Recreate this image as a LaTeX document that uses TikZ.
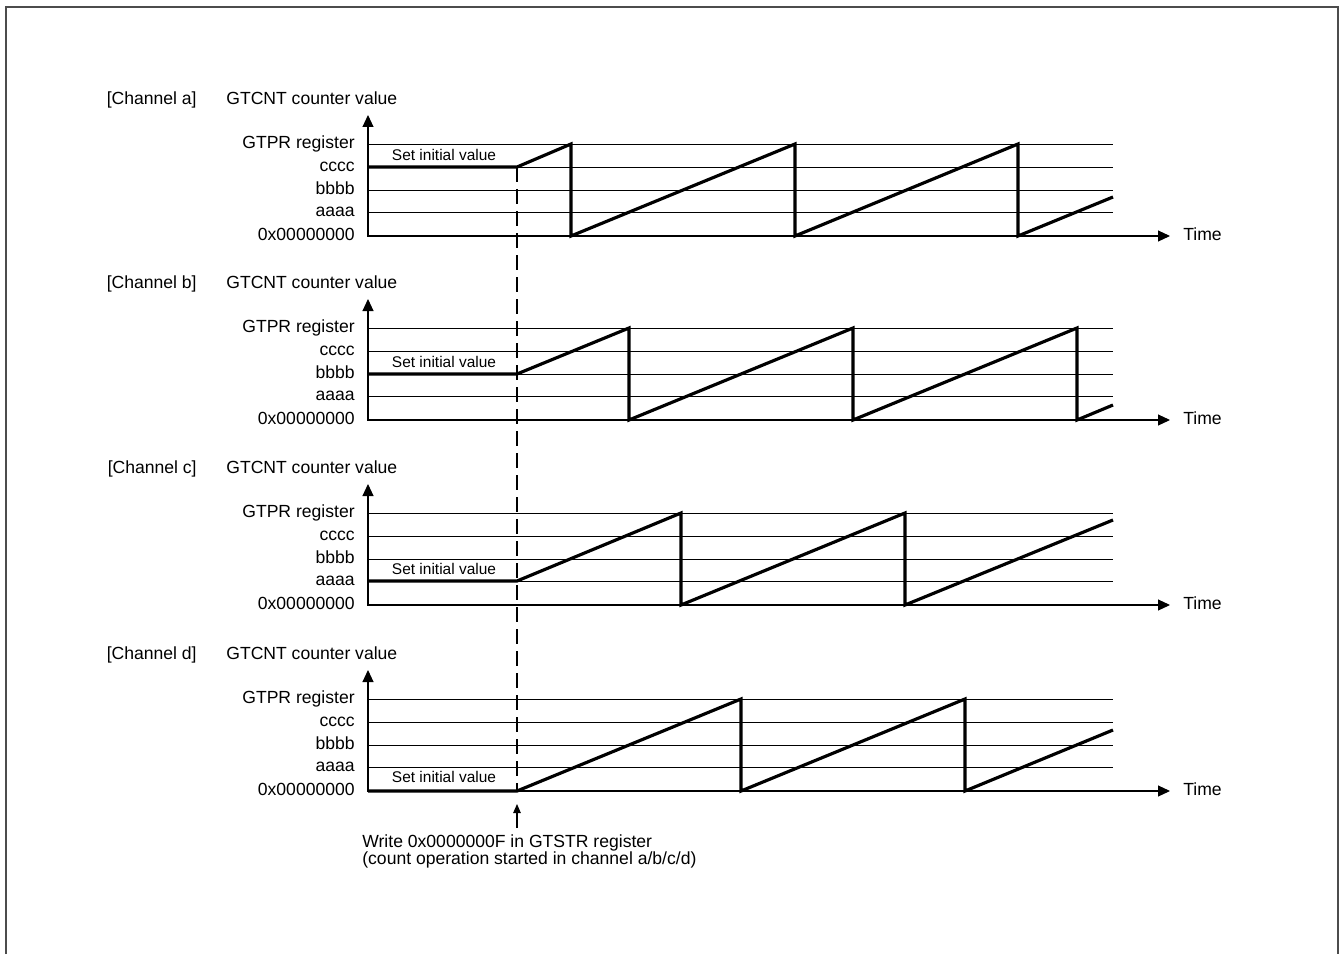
\documentclass[tikz,border=0pt]{standalone}
\usepackage{fontspec}
\setmainfont{Liberation Sans}
\setlength{\lineskiplimit}{-10pt}
\usetikzlibrary{arrows.meta}

\begin{document}
\begin{tikzpicture}[
    x=0.2mm, y=-0.2mm,
    lbl/.style={font=\fontsize{10}{12}\selectfont, inner sep=0pt},
    lvl/.style={lbl, anchor=mid east},
    initv/.style={font=\fontsize{8.8}{10}\selectfont, inner sep=0pt, anchor=mid},
    gridline/.style={line width=0.5pt},
    axisarrow/.style={line width=0.6pt, {Triangle[length=2.4mm, width=2.2mm]}-{Triangle[length=2.4mm, width=2.2mm]}},
    wave/.style={line width=1.8pt},
    dashline/.style={line width=0.85pt, dash pattern=on 3mm off 1.4mm},
    framebox/.style={line width=0.9pt, black!70}
  ]
  \useasboundingbox (0,0) rectangle (1340,954);
  \draw[framebox] (6,954) -- (6,7) -- (1338,7) -- (1338,954);

  % channel a
  \begin{scope}[shift={(0,236)}]
    \node[lbl, anchor=mid east] (aTitle) at (197,-136) {[Channel a]};
    \node[lbl, anchor=mid west] (aName) at (226,-136) {GTCNT counter value};
    \coordinate (aO) at (368,0);
    \coordinate (aTop) at (368,-121);
    \coordinate (aEnd) at (1170,0);
    \coordinate (aR) at (1113,0);
    \node[lvl] (aZero) at (355,0) {0x00000000};
    \node[lvl] (aA) at (355,-24) {aaaa};
    \node[lvl] (aB) at (355,-46) {bbbb};
    \node[lvl] (aC) at (355,-69) {cccc};
    \node[lvl] (aP) at (355,-92) {GTPR register};
    \node[lbl, anchor=mid west] (aTime) at (1183,0) {Time};
    \draw[gridline] (aO |- aA.mid) -- (aR |- aA.mid);
    \draw[gridline] (aO |- aB.mid) -- (aR |- aB.mid);
    \draw[gridline] (aO |- aC.mid) -- (aR |- aC.mid);
    \draw[gridline] (aO |- aP.mid) -- (aR |- aP.mid);
    \draw[axisarrow] (aTop) -- (aO) -- (aEnd);
    \coordinate (aStart) at (517,-69);
    \node[initv] (aInit) at (444,-80) {Set initial value};
    \draw[wave] (368,-69) -- (aStart) -- (571,-92) -- (571,0) -- (795,-92) -- (795,0)
      -- (1018,-92) -- (1018,0) -- (1113,-39);
  \end{scope}

  % channel b
  \begin{scope}[shift={(0,420)}]
    \node[lbl, anchor=mid east] (bTitle) at (197,-136) {[Channel b]};
    \node[lbl, anchor=mid west] (bName) at (226,-136) {GTCNT counter value};
    \coordinate (bO) at (368,0);
    \coordinate (bTop) at (368,-121);
    \coordinate (bEnd) at (1170,0);
    \coordinate (bR) at (1113,0);
    \node[lvl] (bZero) at (355,0) {0x00000000};
    \node[lvl] (bA) at (355,-24) {aaaa};
    \node[lvl] (bB) at (355,-46) {bbbb};
    \node[lvl] (bC) at (355,-69) {cccc};
    \node[lvl] (bP) at (355,-92) {GTPR register};
    \node[lbl, anchor=mid west] (bTime) at (1183,0) {Time};
    \draw[gridline] (bO |- bA.mid) -- (bR |- bA.mid);
    \draw[gridline] (bO |- bB.mid) -- (bR |- bB.mid);
    \draw[gridline] (bO |- bC.mid) -- (bR |- bC.mid);
    \draw[gridline] (bO |- bP.mid) -- (bR |- bP.mid);
    \draw[axisarrow] (bTop) -- (bO) -- (bEnd);
    \coordinate (bStart) at (517,-46);
    \node[initv] (bInit) at (444,-57) {Set initial value};
    \draw[wave] (368,-46) -- (bStart) -- (629,-92) -- (629,0) -- (853,-92) -- (853,0)
      -- (1077,-92) -- (1077,0) -- (1113,-15);
  \end{scope}

  % channel c
  \begin{scope}[shift={(0,605)}]
    \node[lbl, anchor=mid east] (cTitle) at (197,-136) {[Channel c]};
    \node[lbl, anchor=mid west] (cName) at (226,-136) {GTCNT counter value};
    \coordinate (cO) at (368,0);
    \coordinate (cTop) at (368,-121);
    \coordinate (cEnd) at (1170,0);
    \coordinate (cR) at (1113,0);
    \node[lvl] (cZero) at (355,0) {0x00000000};
    \node[lvl] (cA) at (355,-24) {aaaa};
    \node[lvl] (cB) at (355,-46) {bbbb};
    \node[lvl] (cC) at (355,-69) {cccc};
    \node[lvl] (cP) at (355,-92) {GTPR register};
    \node[lbl, anchor=mid west] (cTime) at (1183,0) {Time};
    \draw[gridline] (cO |- cA.mid) -- (cR |- cA.mid);
    \draw[gridline] (cO |- cB.mid) -- (cR |- cB.mid);
    \draw[gridline] (cO |- cC.mid) -- (cR |- cC.mid);
    \draw[gridline] (cO |- cP.mid) -- (cR |- cP.mid);
    \draw[axisarrow] (cTop) -- (cO) -- (cEnd);
    \coordinate (cStart) at (517,-24);
    \node[initv] (cInit) at (444,-35) {Set initial value};
    \draw[wave] (368,-24) -- (cStart) -- (681,-92) -- (681,0) -- (905,-92) -- (905,0)
      -- (1113,-85);
  \end{scope}

  % channel d
  \begin{scope}[shift={(0,791)}]
    \node[lbl, anchor=mid east] (dTitle) at (197,-136) {[Channel d]};
    \node[lbl, anchor=mid west] (dName) at (226,-136) {GTCNT counter value};
    \coordinate (dO) at (368,0);
    \coordinate (dTop) at (368,-121);
    \coordinate (dEnd) at (1170,0);
    \coordinate (dR) at (1113,0);
    \node[lvl] (dZero) at (355,0) {0x00000000};
    \node[lvl] (dA) at (355,-24) {aaaa};
    \node[lvl] (dB) at (355,-46) {bbbb};
    \node[lvl] (dC) at (355,-69) {cccc};
    \node[lvl] (dP) at (355,-92) {GTPR register};
    \node[lbl, anchor=mid west] (dTime) at (1183,0) {Time};
    \draw[gridline] (dO |- dA.mid) -- (dR |- dA.mid);
    \draw[gridline] (dO |- dB.mid) -- (dR |- dB.mid);
    \draw[gridline] (dO |- dC.mid) -- (dR |- dC.mid);
    \draw[gridline] (dO |- dP.mid) -- (dR |- dP.mid);
    \draw[axisarrow] (dTop) -- (dO) -- (dEnd);
    \coordinate (dStart) at (517,0);
    \node[initv] (dInit) at (444,-13) {Set initial value};
    \draw[wave] (368,0) -- (dStart) -- (741,-92) -- (741,0) -- (965,-92) -- (965,0)
      -- (1113,-61);
  \end{scope}

  % start of count
  \draw[dashline] (aStart) -- (dStart);
  \coordinate (wTail) at (517,828);
  \coordinate (wHead) at (517,804);
  \draw[line width=0.6pt, -{Triangle[length=1.8mm, width=1.5mm]}] (wTail) -- (wHead);
  \node[lbl, align=left, anchor=base west, font=\fontsize{10}{9.5}\selectfont] (note) at (362,864)
    {Write 0x0000000F in GTSTR register\\(count operation started in channel a/b/c/d)};
\end{tikzpicture}
\end{document}
